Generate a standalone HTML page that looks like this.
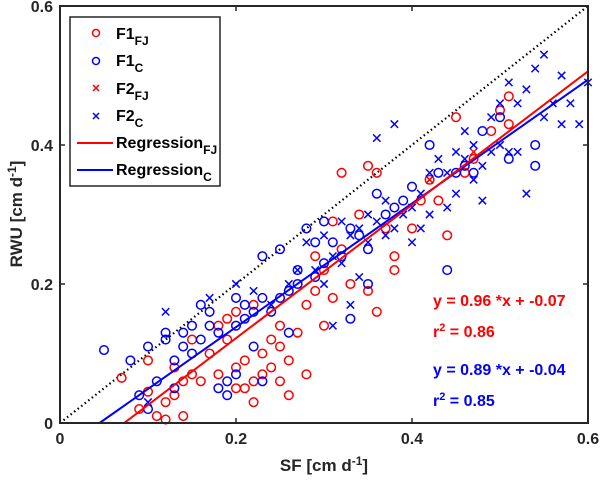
<!DOCTYPE html>
<html><head><meta charset="utf-8"><style>
body{margin:0;background:#fff;}
svg text{font-family:"Liberation Sans",Arial,sans-serif;font-weight:bold;}
</style></head><body>
<svg id="chart" width="600" height="480" viewBox="0 0 600 480" xmlns="http://www.w3.org/2000/svg">
<g id="marks"></g>
<rect x="60" y="6" width="528" height="417" fill="none" stroke="#262626" stroke-width="2"/>
<g id="ticks"></g>
<text x="324" y="471" font-size="17" text-anchor="middle" fill="#262626">SF [cm d<tspan dy="-6" font-size="12">-1</tspan><tspan dy="6">]</tspan></text>
<text transform="translate(22,214) rotate(-90)" font-size="17" text-anchor="middle" fill="#262626">RWU [cm d<tspan dy="-6" font-size="12">-1</tspan><tspan dy="6">]</tspan></text>
<g>
<rect x="70" y="17" width="150" height="169" fill="#fff" stroke="#262626" stroke-width="1.5"/>
<circle cx="96" cy="33" r="3.5" fill="none" stroke="#f00" stroke-width="1.5"/>
<text x="116" y="39" font-size="16" fill="#000">F1<tspan dy="6" font-size="12">FJ</tspan></text>
<circle cx="96" cy="61" r="3.5" fill="none" stroke="#00f" stroke-width="1.5"/>
<text x="116" y="66" font-size="16" fill="#000">F1<tspan dy="6" font-size="12">C</tspan></text>
<path d="M93 85 l6 6 M99 85 l-6 6" stroke="#f00" stroke-width="1.5"/>
<text x="116" y="94" font-size="16" fill="#000">F2<tspan dy="6" font-size="12">FJ</tspan></text>
<path d="M93 113 l6 6 M99 113 l-6 6" stroke="#00f" stroke-width="1.5"/>
<text x="116" y="121" font-size="16" fill="#000">F2<tspan dy="6" font-size="12">C</tspan></text>
<line x1="77" y1="143" x2="113" y2="143" stroke="#f00" stroke-width="2"/>
<text x="116" y="148" font-size="16" fill="#000">Regression<tspan dy="6" font-size="12">FJ</tspan></text>
<line x1="77" y1="170" x2="113" y2="170" stroke="#00f" stroke-width="2"/>
<text x="116" y="175" font-size="16" fill="#000">Regression<tspan dy="6" font-size="12">C</tspan></text>
</g>
<text x="433" y="306" font-size="16" fill="#f00">y = 0.96 *x + -0.07</text>
<text x="433" y="337" font-size="16" fill="#f00">r<tspan dy="-6" font-size="11">2</tspan><tspan dy="6"> = 0.86</tspan></text>
<text x="433" y="375" font-size="16" fill="#00f">y = 0.89 *x + -0.04</text>
<text x="433" y="406" font-size="16" fill="#00f">r<tspan dy="-6" font-size="11">2</tspan><tspan dy="6"> = 0.85</tspan></text>
</svg>
<script>
const xTicks=[0,0.2,0.4,0.6];
const yTicks=[0,0.2,0.4,0.6];
const f1fjX=[0.07,0.09,0.1,0.11,0.12,0.12,0.13,0.13,0.14,0.14,0.15,0.16,0.17,0.18,0.18,0.19,0.19,0.2,0.2,0.21,0.21,0.22,0.22,0.23,0.23,0.24,0.24,0.25,0.25,0.26,0.26,0.27,0.28,0.28,0.29,0.29,0.3,0.3,0.31,0.31,0.32,0.32,0.33,0.34,0.35,0.35,0.36,0.36,0.37,0.38,0.38,0.4,0.41,0.42,0.43,0.44,0.45,0.46,0.47,0.49,0.5,0.51,0.51,0.2,0.15,0.1,0.25,0.22];
const f1fjY=[0.065,0.02,0.045,0.01,0.03,0.005,0.08,0.04,0.01,0.06,0.07,0.06,0.1,0.07,0.14,0.12,0.15,0.05,0.08,0.05,0.09,0.06,0.03,0.07,0.1,0.08,0.12,0.06,0.11,0.09,0.04,0.13,0.17,0.07,0.19,0.24,0.22,0.14,0.18,0.29,0.36,0.25,0.2,0.3,0.37,0.19,0.36,0.16,0.28,0.24,0.22,0.28,0.32,0.35,0.32,0.27,0.44,0.36,0.38,0.42,0.45,0.47,0.43,0.16,0.12,0.09,0.14,0.17];
const f1cX=[0.05,0.08,0.09,0.1,0.1,0.11,0.12,0.12,0.13,0.13,0.14,0.14,0.15,0.15,0.16,0.16,0.17,0.17,0.18,0.18,0.19,0.19,0.2,0.2,0.21,0.21,0.22,0.22,0.23,0.23,0.24,0.25,0.25,0.26,0.26,0.27,0.27,0.28,0.29,0.29,0.3,0.3,0.31,0.32,0.33,0.33,0.34,0.35,0.35,0.36,0.37,0.38,0.39,0.4,0.42,0.43,0.44,0.45,0.46,0.47,0.48,0.5,0.51,0.54,0.54,0.23,0.2];
const f1cY=[0.105,0.09,0.04,0.02,0.11,0.06,0.13,0.12,0.09,0.05,0.11,0.13,0.14,0.1,0.12,0.17,0.14,0.16,0.13,0.05,0.06,0.04,0.14,0.18,0.17,0.15,0.16,0.11,0.18,0.24,0.16,0.18,0.25,0.13,0.19,0.2,0.22,0.28,0.21,0.26,0.23,0.29,0.26,0.24,0.28,0.15,0.27,0.2,0.25,0.33,0.3,0.31,0.32,0.34,0.4,0.36,0.22,0.36,0.37,0.36,0.42,0.44,0.38,0.37,0.4,0.06,0.07];
const f2fjX=[0.42,0.47];
const f2fjY=[0.35,0.39];
const f2cX=[0.1,0.12,0.17,0.2,0.22,0.24,0.26,0.27,0.28,0.29,0.3,0.3,0.31,0.31,0.32,0.32,0.33,0.33,0.34,0.34,0.35,0.35,0.36,0.36,0.37,0.37,0.38,0.38,0.39,0.4,0.4,0.41,0.41,0.42,0.42,0.43,0.44,0.44,0.45,0.45,0.46,0.46,0.47,0.47,0.48,0.48,0.49,0.49,0.5,0.5,0.51,0.52,0.53,0.53,0.54,0.55,0.55,0.56,0.57,0.58,0.59,0.6,0.52,0.51,0.57];
const f2cY=[0.03,0.16,0.18,0.2,0.19,0.17,0.2,0.22,0.26,0.22,0.2,0.27,0.24,0.14,0.23,0.29,0.27,0.17,0.21,0.28,0.26,0.3,0.29,0.41,0.27,0.32,0.28,0.43,0.3,0.31,0.26,0.33,0.28,0.3,0.36,0.38,0.31,0.36,0.33,0.39,0.42,0.38,0.4,0.35,0.37,0.32,0.44,0.39,0.46,0.4,0.39,0.39,0.33,0.48,0.51,0.44,0.53,0.46,0.43,0.46,0.43,0.49,0.46,0.49,0.5];
const regFJ=[0.96,-0.07];
const regC=[0.89,-0.04];
const X=v=>60+v*880, Y=v=>423-v*695;
const NS="http://www.w3.org/2000/svg";
const marks=document.getElementById('marks'), ticks=document.getElementById('ticks');
function mk(t,a,p){const e=document.createElementNS(NS,t);for(const k in a)e.setAttribute(k,a[k]);p.appendChild(e);return e;}
let d=mk('line',{x1:X(0),y1:Y(0),x2:X(0.6),y2:Y(0.6),stroke:'#000','stroke-width':2.2,'stroke-dasharray':'1.5 3'},marks);


function circles(xs,ys,col,name){xs.forEach((x,i)=>{const c=mk('circle',{cx:X(x),cy:Y(ys[i]),r:4.3,fill:'none',stroke:col,'stroke-width':1.5},marks);

});}
function crosses(xs,ys,col,name){xs.forEach((x,i)=>{const cx=X(x),cy=Y(ys[i]);const c=mk('path',{d:`M${cx-3.7} ${cy-3.7}l7.4 7.4M${cx+3.7} ${cy-3.7}l-7.4 7.4`,stroke:col,'stroke-width':1.5},marks);

});}
circles(f1fjX,f1fjY,'#f00','point-f1-fj');
circles(f1cX,f1cY,'#00f','point-f1-c');
crosses(f2fjX,f2fjY,'#f00','point-f2-fj');
crosses(f2cX,f2cY,'#00f','point-f2-c');
function reg(r,col,name){const x0=-r[1]/r[0];const l=mk('line',{x1:X(x0),y1:Y(0),x2:X(0.6),y2:Y(r[0]*0.6+r[1]),stroke:col,'stroke-width':2},marks);

}
reg(regC,'#00f','regression-line-c');
reg(regFJ,'#f00','regression-line-fj');
xTicks.forEach(v=>{mk('line',{x1:X(v),y1:423,x2:X(v),y2:418,stroke:'#262626','stroke-width':1.5},ticks);mk('line',{x1:X(v),y1:6,x2:X(v),y2:11,stroke:'#262626','stroke-width':1.5},ticks);
const t=mk('text',{x:X(v),y:444,'font-size':16,'text-anchor':'middle',fill:'#262626'},ticks);t.textContent=v===0?'0':v.toFixed(1);

});
yTicks.forEach(v=>{mk('line',{x1:60,y1:Y(v),x2:65,y2:Y(v),stroke:'#262626','stroke-width':1.5},ticks);mk('line',{x1:588,y1:Y(v),x2:583,y2:Y(v),stroke:'#262626','stroke-width':1.5},ticks);
const t=mk('text',{x:53,y:Y(v)+6,'font-size':16,'text-anchor':'end',fill:'#262626'},ticks);t.textContent=v===0?'0':v.toFixed(1);

});
</script>
</body></html>
